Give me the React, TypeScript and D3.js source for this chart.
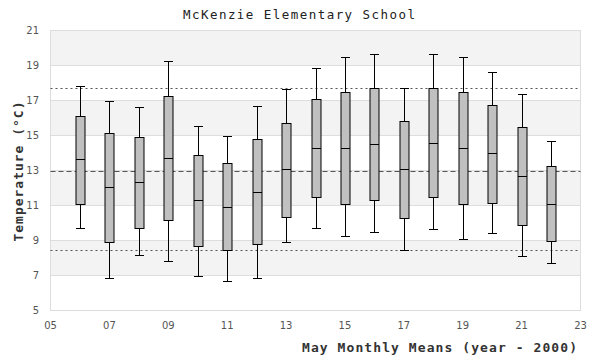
import { useEffect, useRef } from 'react';
import * as d3 from 'd3';

const W = 600;
const H = 360;

const years = [6, 7, 8, 9, 10, 11, 12, 13, 14, 15, 16, 17, 18, 19, 20, 21, 22];
const whiskerHigh = [17.8, 16.98, 16.6, 19.23, 15.53, 15.0, 16.71, 17.63, 18.87, 19.51, 19.67, 17.69, 19.67, 19.51, 18.6, 17.4, 14.71];
const q3 = [16.14, 15.17, 14.89, 17.23, 13.86, 13.4, 14.81, 15.74, 17.06, 17.46, 17.74, 15.84, 17.69, 17.51, 16.77, 15.51, 13.23];
const medians = [13.63, 12.03, 12.33, 13.74, 11.29, 10.89, 11.8, 13.06, 14.26, 14.26, 14.54, 13.06, 14.6, 14.31, 13.99, 12.71, 11.11];
const q1 = [11.11, 8.94, 9.7, 10.2, 8.66, 8.43, 8.81, 10.37, 11.46, 11.06, 11.34, 10.26, 11.51, 11.11, 11.17, 9.91, 8.98];
const whiskerLow = [9.7, 6.83, 8.2, 7.8, 7.0, 6.71, 6.83, 8.89, 9.7, 9.23, 9.51, 8.43, 9.63, 9.11, 9.4, 8.09, 7.69];

const yTicks = [5, 7, 9, 11, 13, 15, 17, 19, 21];
const xTicks = [5, 7, 9, 11, 13, 15, 17, 19, 21, 23];
const refLines = [
  { v: 17.7, dash: '2,3' },
  { v: 13.0, dash: '5,3' },
  { v: 8.43, dash: '2,3' },
];

export default function App() {
  const ref = useRef<SVGSVGElement>(null);

  useEffect(() => {
    const svg = d3.select(ref.current);
    svg.selectAll('*').remove();

    const x = d3.scaleLinear().domain([5, 23]).range([50.5, 580.5]);
    const y = d3.scaleLinear().domain([5, 21]).range([310.5, 30.5]);

    const rows = years.map((yr, i) => ({
      yr, hi: whiskerHigh[i], q3: q3[i], med: medians[i], q1: q1[i], lo: whiskerLow[i],
    }));

    // alternating bands
    const bands = d3.range(yTicks.length - 1).filter(i => i % 2 === 1);
    svg.append('g').selectAll('rect').data(bands).enter().append('rect')
      .attr('x', x(5)).attr('width', x(23) - x(5))
      .attr('y', i => y(yTicks[i + 1])).attr('height', i => y(yTicks[i]) - y(yTicks[i + 1]))
      .attr('fill', '#f3f3f3');

    svg.append('g').selectAll('line').data(yTicks).enter().append('line')
      .attr('x1', x(5)).attr('x2', x(23))
      .attr('y1', d => y(d)).attr('y2', d => y(d))
      .attr('stroke', '#dddddd');

    svg.append('rect')
      .attr('x', x(5)).attr('y', y(21))
      .attr('width', x(23) - x(5)).attr('height', y(5) - y(21))
      .attr('fill', 'none').attr('stroke', '#dddddd');

    svg.append('g').selectAll('line').data(refLines).enter().append('line')
      .attr('x1', x(5)).attr('x2', x(23))
      .attr('y1', d => Math.round(y(d.v)) + 0.5).attr('y2', d => Math.round(y(d.v)) + 0.5)
      .attr('stroke', '#555').attr('stroke-dasharray', d => d.dash);

    const bw = 8;
    const cw = 9;
    const px = (v: number) => Math.round(x(v)) + 0.5;
    const py = (v: number) => Math.round(y(v)) + 0.5;

    const g = svg.append('g').selectAll('g').data(rows).enter().append('g');
    g.append('line')
      .attr('x1', d => px(d.yr)).attr('x2', d => px(d.yr))
      .attr('y1', d => py(d.hi)).attr('y2', d => py(d.lo))
      .attr('stroke', '#000');
    g.append('line')
      .attr('x1', d => px(d.yr) - cw / 2).attr('x2', d => px(d.yr) + cw / 2)
      .attr('y1', d => py(d.hi)).attr('y2', d => py(d.hi))
      .attr('stroke', '#000');
    g.append('line')
      .attr('x1', d => px(d.yr) - cw / 2).attr('x2', d => px(d.yr) + cw / 2)
      .attr('y1', d => py(d.lo)).attr('y2', d => py(d.lo))
      .attr('stroke', '#000');
    g.append('rect')
      .attr('x', d => px(d.yr) - bw / 2 - 0.5).attr('width', bw + 1)
      .attr('y', d => py(d.q3)).attr('height', d => py(d.q1) - py(d.q3))
      .attr('fill', '#c0c0c0').attr('stroke', '#000');
    g.append('line')
      .attr('x1', d => px(d.yr) - bw / 2 - 0.5).attr('x2', d => px(d.yr) + bw / 2 + 0.5)
      .attr('y1', d => py(d.med)).attr('y2', d => py(d.med))
      .attr('stroke', '#000');

    svg.append('g').selectAll('text').data(yTicks).enter().append('text')
      .attr('x', 39).attr('y', d => y(d) + 3.5)
      .attr('text-anchor', 'end')
      .attr('font-family', 'DejaVu Sans').attr('font-size', 10).attr('fill', '#555')
      .text(d => String(d));

    svg.append('g').selectAll('text').data(xTicks).enter().append('text')
      .attr('x', d => x(d)).attr('y', 329)
      .attr('text-anchor', 'middle')
      .attr('font-family', 'DejaVu Sans').attr('font-size', 10).attr('fill', '#555')
      .text(d => d3.format('02d')(d));

    svg.append('text')
      .attr('x', 299).attr('y', 18.5).attr('text-anchor', 'middle')
      .attr('font-family', 'DejaVu Sans Mono').attr('font-size', 12.5).attr('fill', '#222')
      .attr('textLength', 232).attr('lengthAdjust', 'spacing')
      .text('McKenzie Elementary School');

    svg.append('text')
      .attr('x', 577).attr('y', 351.5).attr('text-anchor', 'end')
      .attr('font-family', 'DejaVu Sans Mono').attr('font-size', 13).attr('fill', '#333')
      .attr('font-weight', 'bold')
      .attr('textLength', 275).attr('lengthAdjust', 'spacing')
      .text('May Monthly Means (year - 2000)');

    svg.append('text')
      .attr('transform', 'translate(23,171.5) rotate(-90)')
      .attr('text-anchor', 'middle')
      .attr('font-family', 'DejaVu Sans Mono').attr('font-size', 13).attr('fill', '#333')
      .attr('font-weight', 'bold')
      .attr('textLength', 140).attr('lengthAdjust', 'spacing')
      .text('Temperature (°C)');
  }, []);

  return (
    <svg ref={ref} width={W} height={H}
      style={{ position: 'absolute', left: 0, top: 0, background: '#fff' }} />
  );
}
